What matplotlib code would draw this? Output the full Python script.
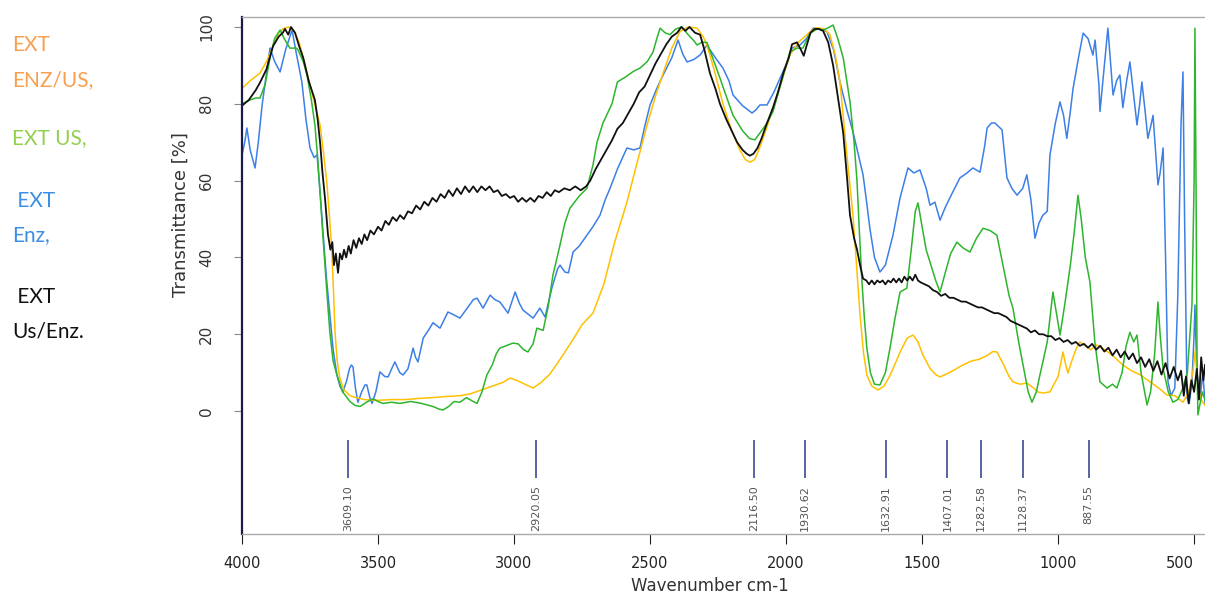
import matplotlib.pyplot as plt
from matplotlib import font_manager

# ---- data (wavenumber cm-1, transmittance %) ----
wn_us_enz = [4000, 3975, 3950, 3934, 3910, 3886, 3865, 3850, 3842, 3830, 3820, 3805, 3790, 3775, 3755,
             3732, 3722, 3713, 3704, 3695, 3684, 3675, 3668, 3662, 3655, 3647, 3640, 3632, 3625, 3617,
             3608, 3600, 3590, 3580, 3570, 3560, 3550, 3540, 3528, 3515, 3500, 3487, 3473, 3460, 3446,
             3432, 3419, 3405, 3390, 3375, 3360, 3345, 3330, 3315, 3300, 3285, 3270, 3255, 3240, 3225,
             3210, 3195, 3180, 3165, 3150, 3135, 3120, 3105, 3090, 3075, 3060, 3045, 3030, 3015, 3000,
             2985, 2970, 2955, 2940, 2925, 2910, 2895, 2880, 2865, 2850, 2835, 2815, 2795, 2775, 2755,
             2735, 2720, 2700, 2680, 2660, 2640, 2620, 2600, 2580, 2560, 2540, 2520, 2500, 2480, 2460,
             2440, 2420, 2400, 2385, 2370, 2355, 2335, 2316, 2300, 2280, 2260, 2243, 2220, 2200, 2180,
             2160, 2145, 2133, 2120, 2105, 2090, 2070, 2048, 2030, 2010, 1990, 1978, 1960, 1945, 1935,
             1925, 1910, 1895, 1880, 1864, 1845, 1827, 1810, 1790, 1775, 1765, 1750, 1739, 1728, 1717,
             1705, 1695, 1685, 1675, 1665, 1655, 1645, 1635, 1625, 1615, 1605, 1595, 1585, 1575, 1565,
             1555, 1545, 1535, 1525, 1515, 1505, 1490, 1475, 1460, 1445, 1430, 1415, 1400, 1385, 1370,
             1355, 1340, 1325, 1310, 1295, 1280, 1265, 1250, 1235, 1220, 1205, 1190, 1175, 1160, 1145,
             1130, 1115, 1100, 1085, 1070, 1055, 1040, 1025, 1010, 995, 980, 965, 950, 935, 920,
             905, 890, 875, 860, 845, 830, 815, 800, 785, 770, 755, 740, 725, 710, 695,
             680, 665, 650, 635, 620, 605, 590, 575, 560, 548, 538, 530, 520, 510, 500,
             490, 482, 474, 466, 460]
t_us_enz = [79.5, 81, 83.5, 85.5, 89, 95, 97.5, 98.5, 99.5, 98, 100, 98.5, 95, 92, 86,
            81, 76, 70, 62, 55.5, 46, 42, 44, 38, 41, 36, 41, 39.5, 42, 40,
            43, 41, 44.5, 42.5, 45, 43.5, 46, 44.5, 47, 46, 48, 47, 49.5, 48.5, 50.5,
            49.5, 51, 50, 52, 51.5, 53.5, 52.5, 54.5, 53.5, 55.5, 54.5, 56.5, 55.5, 57.5, 56,
            58, 56.5, 58.5, 57, 58.5, 57, 58.5, 57.5, 58.5, 57, 57.5, 56, 56.5, 55.5, 56,
            54.5, 55.5, 54.5, 55.5, 54.5, 56, 55.5, 57, 56, 57.5, 57, 58, 57.5, 58.5, 57.5,
            58.5, 60, 63, 65.5, 68, 70.5, 73.5, 75, 77.5, 80, 83, 84.5, 87.5, 90.5, 93,
            95.5, 97.5, 98.5, 100, 99, 100, 98.5, 98, 94, 88, 84, 80, 76, 73, 70,
            68, 67, 66.5, 67, 68.5, 71, 75, 79, 83, 88, 92, 95.5, 96, 94, 92.5,
            95, 98.5, 99.5, 99.5, 99, 96, 90, 82, 72.5, 60, 51, 45, 42, 38, 34.5,
            34, 33, 34, 33, 34, 33.5, 34, 33, 34, 33.5, 34.5, 33.5, 34.5, 33.5, 35,
            34, 35, 34, 35.5, 34, 33.5, 33, 32.5, 31.5, 31, 30, 30.5, 29.5, 29.5, 29,
            28.5, 28.5, 28, 27.5, 27, 27, 26.5, 26, 25.5, 25.5, 25, 24.5, 23.5, 23, 22.5,
            22, 21.5, 20.5, 21, 20, 20, 19.5, 19.5, 18.5, 19, 18, 18.5, 17.5, 18, 17,
            17.5, 16.5, 17.5, 16, 17, 15.5, 16.5, 14.5, 16, 14, 15.5, 13.5, 15, 12.5, 14,
            11.5, 13.5, 10.5, 13, 9.5, 12.5, 8.5, 11.5, 8, 10.5, 4, 9, 2, 8, 5,
            11, 3, 14, 8, 12]

wn_enz_us = [4000, 3970, 3934, 3910, 3886, 3865, 3850, 3830, 3810, 3790, 3768, 3740, 3713, 3700, 3688,
             3678, 3670, 3663, 3658, 3650, 3640, 3625, 3603, 3580, 3550, 3500, 3450, 3400, 3350, 3300,
             3250, 3200, 3160, 3120, 3080, 3040, 3015, 2990, 2960, 2930, 2900, 2870, 2840, 2813, 2780,
             2750, 2710, 2670, 2630, 2585, 2550, 2511, 2480, 2452, 2420, 2390, 2360, 2327, 2305, 2291,
             2265, 2232, 2200, 2170, 2150, 2133, 2115, 2095, 2070, 2048, 2020, 1986, 1955, 1923, 1900,
             1886, 1860, 1839, 1820, 1802, 1785, 1770, 1754, 1740, 1728, 1715, 1703, 1685, 1662, 1640,
             1620, 1607, 1580, 1555, 1533, 1515, 1497, 1470, 1450, 1434, 1400, 1375, 1350, 1320, 1290,
             1260, 1240, 1225, 1200, 1180, 1166, 1140, 1115, 1090, 1075, 1056, 1030, 1000, 982, 972,
             964, 950, 935, 920, 900, 880, 857, 830, 800, 762, 730, 700, 662, 630, 600,
             570, 541, 520, 505, 495, 488, 475, 460]
t_enz_us = [84, 86, 88, 91, 95, 98.5, 99.5, 100, 99, 96, 90, 82, 74.5, 67, 59.5,
            50, 42, 30, 20.5, 13, 8.5, 5.5, 4, 3.5, 3, 2.8, 3, 3, 3.3, 3.5,
            3.8, 4, 4.5, 5.5, 6.5, 7.5, 8.6, 8, 7, 6, 7.5, 9.5, 12.5, 15.4, 19,
            22.5, 25.5, 33, 44, 54.4, 64, 74.5, 82, 88, 94.5, 98.8, 100, 99.7, 97.5, 95.3,
            89, 80, 73, 68, 65.5, 64.8, 65.5, 69, 74, 79, 85, 92.7, 96, 98, 99.5,
            99.8, 99.5, 98, 93, 85.7, 73, 62, 51, 37, 25, 15, 9.4, 6.5, 5.5, 6.5,
            9, 11, 15.5, 19, 19.8, 18, 14.6, 11, 9.5, 8.9, 10, 11, 12, 13, 13.5,
            14.5, 15.5, 15.4, 12, 9, 7.6, 7, 7.3, 6, 5, 4.7, 5, 9, 15.4, 12,
            9.9, 13, 16, 18, 17, 16, 17.2, 16, 14.5, 12, 10.5, 9.5, 7.6, 6, 4.2,
            4, 2.3, 5, 10, 16, 8, 3, 1.5]

wn_us = [4000, 3970, 3950, 3934, 3915, 3897, 3880, 3860, 3845, 3824, 3800, 3794, 3775, 3761, 3745,
         3732, 3722, 3713, 3704, 3695, 3686, 3677, 3665, 3651, 3630, 3603, 3585, 3566, 3545, 3519,
         3500, 3482, 3450, 3419, 3380, 3340, 3298, 3275, 3261, 3240, 3220, 3199, 3175, 3150, 3136,
         3118, 3100, 3080, 3065, 3052, 3030, 3004, 2985, 2965, 2949, 2930, 2916, 2893, 2875, 2857,
         2835, 2813, 2794, 2760, 2732, 2710, 2695, 2673, 2640, 2620, 2590, 2560, 2537, 2510, 2489,
         2475, 2463, 2445, 2427, 2405, 2383, 2360, 2340, 2327, 2310, 2291, 2270, 2243, 2220, 2195,
         2160, 2135, 2115, 2095, 2070, 2048, 2020, 1986, 1960, 1938, 1912, 1885, 1864, 1845, 1827,
         1810, 1790, 1777, 1765, 1750, 1739, 1730, 1721, 1712, 1703, 1690, 1675, 1655, 1635, 1618,
         1600, 1581, 1556, 1540, 1525, 1515, 1500, 1485, 1471, 1450, 1434, 1415, 1395, 1372, 1350,
         1324, 1300, 1276, 1250, 1225, 1200, 1180, 1166, 1145, 1129, 1110, 1096, 1080, 1065, 1056,
         1040, 1019, 1005, 993, 975, 955, 940, 927, 915, 900, 883, 865, 846, 820, 800,
         784, 765, 750, 736, 722, 710, 695, 673, 660, 645, 633, 625, 614, 595, 578,
         560, 541, 525, 508, 500, 497, 493, 489, 486, 478, 470, 460]
t_us = [80, 81, 81.5, 81.5, 85, 92, 97, 99.2, 97, 94.5, 94.5, 94, 91, 87.5, 81,
        74.5, 66, 57, 47, 38, 29, 20.5, 13, 9.4, 5, 2.5, 1.5, 1.2, 2.2, 3.2,
        2.5, 2, 2.3, 2, 2.5, 2, 1.2, 0.5, 0.3, 1.2, 2.5, 2.3, 3.5, 2.5, 2,
        5, 9.4, 12, 15, 16.4, 17, 17.7, 17.5, 16, 15.4, 17.5, 21.6, 21, 27, 35.4,
        42, 49, 52.9, 56, 58, 64, 70, 75, 80, 85.7, 87, 88.5, 89.3, 91, 93.5,
        97, 99.7, 98.5, 98, 99.5, 100, 98, 96.5, 95.3, 96, 96, 92, 86.7, 82, 77,
        73, 71, 70.6, 72.5, 75, 78, 85, 93.5, 94.5, 94.5, 98.4, 99.5, 99.2, 99.8, 100.5,
        97, 92, 86, 80.5, 70, 59.6, 46, 33.6, 24, 16.4, 10, 7, 6.8, 10, 16.4,
        24, 31, 32, 42, 52, 54.2, 48, 42, 38.8, 34, 31, 36, 41, 44, 42.5,
        41.4, 45, 47.6, 47, 45.8, 37, 30, 26.8, 18, 12, 5, 2.3, 5, 10, 12.8,
        18, 31, 25, 19.8, 28, 38, 47, 56.2, 50, 40, 33.6, 18, 7.6, 6, 7,
        6, 10, 17, 20.5, 18, 19.8, 10, 1.6, 5, 15, 28.4, 20, 11, 5, 2.3,
        3, 6, 10, 27.6, 60, 99.7, 60, 10, -1, 2, 5, 3]

wn_enz = [4000, 3990, 3982, 3970, 3952, 3940, 3926, 3910, 3897, 3880, 3860, 3840, 3816, 3800, 3780,
          3765, 3750, 3735, 3724, 3712, 3702, 3690, 3677, 3665, 3651, 3640, 3629, 3615, 3605, 3598,
          3592, 3583, 3574, 3560, 3548, 3541, 3530, 3522, 3508, 3493, 3475, 3463, 3450, 3438, 3420,
          3408, 3390, 3371, 3362, 3353, 3334, 3315, 3298, 3272, 3243, 3220, 3199, 3170, 3150, 3136,
          3114, 3088, 3070, 3052, 3022, 2996, 2980, 2967, 2930, 2905, 2886, 2861, 2840, 2831, 2813,
          2800, 2783, 2760, 2732, 2710, 2684, 2665, 2647, 2620, 2585, 2560, 2537, 2520, 2500, 2475,
          2452, 2420, 2397, 2380, 2364, 2340, 2316, 2291, 2260, 2232, 2210, 2195, 2160, 2125, 2110,
          2096, 2070, 2045, 2022, 1995, 1978, 1949, 1925, 1901, 1875, 1850, 1825, 1802, 1775, 1754,
          1735, 1717, 1705, 1692, 1675, 1655, 1635, 1607, 1581, 1552, 1530, 1508, 1485, 1471, 1453,
          1434, 1415, 1398, 1380, 1361, 1335, 1313, 1287, 1270, 1261, 1245, 1232, 1206, 1188, 1170,
          1151, 1130, 1115, 1100, 1085, 1070, 1056, 1040, 1030, 1010, 993, 980, 968, 955, 945,
          925, 908, 890, 872, 864, 850, 846, 830, 817, 798, 785, 773, 762, 748, 736,
          722, 710, 700, 692, 680, 670, 660, 651, 642, 633, 625, 614, 605, 596, 585,
          571, 560, 548, 541, 535, 526, 518, 508, 500, 497, 490, 478, 468, 460]
t_enz = [66.7, 70, 73.7, 68, 63.3, 70, 79.7, 88, 94.5, 91, 88.3, 94, 99.2, 93, 85.7,
         76, 68.5, 66, 66.7, 56, 46.6, 35, 25, 16, 9.4, 6.5, 5, 8, 11, 12,
         11.5, 6, 2.3, 5, 6.8, 6.8, 3.5, 2, 5, 10.2, 9, 8.9, 11, 12.8, 10,
         9.4, 11, 16.4, 14, 12.8, 19, 21, 23, 21.6, 25.8, 25, 24.2, 27, 29, 29.4,
         26.8, 30.2, 29, 28.4, 25.5, 31, 28, 26.3, 24.2, 26.8, 24.5, 32, 37, 38, 36.2,
         36, 41.4, 43, 45.8, 48, 51, 55, 58, 63, 68.5, 68, 68.5, 74, 79.7, 84,
         87.5, 92, 96.6, 93, 90.9, 91.5, 92.7, 95.3, 92, 89.3, 86, 82.3, 79.5, 77.6, 78.5,
         79.7, 79.7, 83, 86.7, 91, 94.5, 95.3, 97, 99.7, 99.5, 98.8, 94, 85.7, 78, 72.7,
         67, 61.5, 55, 47.6, 40, 36.2, 38, 45.8, 55.5, 63.3, 62, 62.8, 58, 53.6, 54.4,
         49.7, 53, 55.5, 58, 60.7, 62, 63.3, 62.2, 69, 73.7, 75, 75, 73.2, 60.7, 58,
         56.2, 58, 61.5, 55, 45, 49, 51, 52, 66.7, 75, 80.5, 77, 71, 78, 84,
         92, 98.4, 97, 92.7, 96.6, 85, 78, 90, 99.7, 82.3, 86, 87.5, 79, 86, 90.9,
         82, 74.5, 80, 85.7, 78, 71, 74, 77, 68, 58.9, 62, 68.5, 40, 7.6, 4,
         6, 30, 75, 88.3, 50, 3.4, 2, 7.6, 20, 27.6, 10, 3.4, 10, 2]

peak_wn = [3609.10, 2920.05, 2116.50, 1930.62, 1632.91, 1407.01, 1282.58, 1128.37, 887.55]
peak_labels = ['3609.10', '2920.05', '2116.50', '1930.62', '1632.91', '1407.01', '1282.58', '1128.37', '887.55']

legend_lines = [('EXT', '#F8A050'), ('ENZ/US,', '#F8A050'), ('EXT US,', '#92D050'),
                (' EXT', '#3A8EE6'), ('Enz,', '#3A8EE6'), (' EXT', '#111111'), ('Us/Enz.', '#111111')]
legend_y = [45, 80, 138, 201, 235, 297, 331]

names = {f.name for f in font_manager.fontManager.ttflist}
axis_font = ['Liberation Sans Narrow', 'DejaVu Sans'] if 'Liberation Sans Narrow' in names else ['DejaVu Sans']
legend_font = ['Lato', 'DejaVu Sans'] if 'Lato' in names else ['DejaVu Sans']
plt.rcParams['font.family'] = axis_font

W, H = 1205, 594
fig = plt.figure(figsize=(W / 100, H / 100), dpi=100)
ax = fig.add_axes([242 / W, 1 - 534 / H, 1 - 242 / W, (534 - 17) / H])

ax.plot(wn_enz, t_enz, color='#3C7FE6', lw=1.1)
ax.plot(wn_enz_us, t_enz_us, color='#FFC000', lw=1.1)
ax.plot(wn_us, t_us, color='#2DB52D', lw=1.1)
ax.plot(wn_us_enz, t_us_enz, color='#111111', lw=1.3)

ax.vlines(peak_wn, -17.4, -7.6, color='#2B3A8C', lw=1.1)
for w, lab in zip(peak_wn, peak_labels):
    ax.text(w, -19.2, lab, rotation=90, ha='center', va='top', fontsize=8, color='#555555')

ax.set_xlim(4000, 460)
ax.set_ylim(-32, 102.6)
ax.set_yticks([0, 20, 40, 60, 80, 100])
ax.set_xticks([4000, 3500, 3000, 2500, 2000, 1500, 1000, 500])
ax.tick_params(axis='y', labelrotation=90, length=6, pad=14, color='#888888', labelsize=11, labelcolor='#333333')
ax.tick_params(axis='x', length=7, pad=9, color='#222222', labelsize=10.5, labelcolor='#222222')
for lab in ax.get_yticklabels():
    lab.set_va('center')
# last x label sits at the right edge, keep it inside the figure
ax.get_xticklabels()[-1].set_ha('right')
ax.get_xticklabels()[-1].set_x(ax.get_xticks()[-1])

ax.spines['right'].set_visible(False)
ax.spines['left'].set_color('#1a1a4a')
ax.spines['left'].set_linewidth(1.6)
for s in ('top', 'bottom'):
    ax.spines[s].set_color('#aaaaaa')
    ax.spines[s].set_linestyle((0, (1, 1)))
    ax.spines[s].set_linewidth(1.0)

ax.set_ylabel('Transmittance [%]', fontsize=13, color='#333333')
ax.yaxis.set_label_coords(-0.054, 0.617)
ax.set_xlabel('Wavenumber cm-1', fontsize=12, color='#333333')
ax.xaxis.set_label_coords(0.486, -0.083)

for (txt, col), y in zip(legend_lines, legend_y):
    fig.text(12 / W, 1 - y / H, txt, color=col, fontsize=15, va='center', ha='left', family=legend_font)

plt.savefig('out.png', dpi=100)
